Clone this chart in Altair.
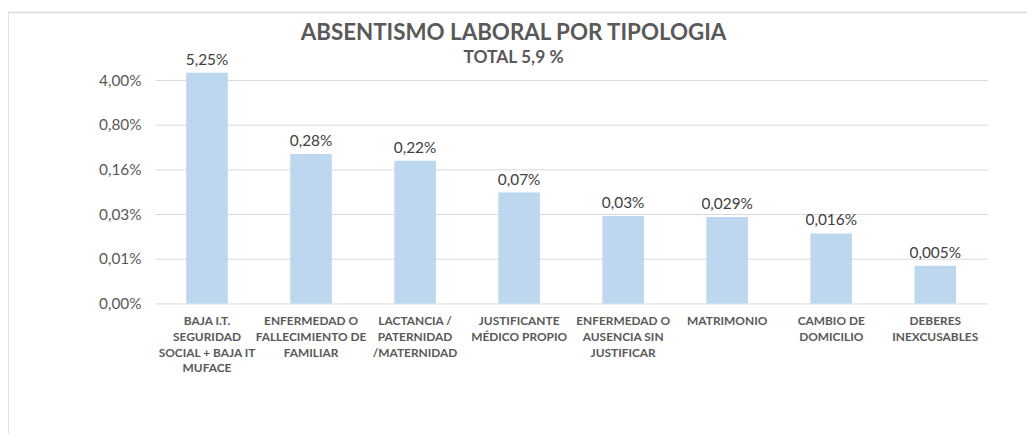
import altair as alt
import pandas as pd

CATEGORIES = [
    "BAJA I.T.|SEGURIDAD|SOCIAL + BAJA IT|MUFACE",
    "ENFERMEDAD O|FALLECIMIENTO DE|FAMILIAR",
    "LACTANCIA /|PATERNIDAD|/MATERNIDAD",
    "JUSTIFICANTE|MÉDICO PROPIO",
    "ENFERMEDAD O|AUSENCIA SIN|JUSTIFICAR",
    "MATRIMONIO",
    "CAMBIO DE|DOMICILIO",
    "DEBERES|INEXCUSABLES",
]
VALUES = [5.25, 0.28, 0.22, 0.07, 0.03, 0.029, 0.016, 0.005]
VALUE_LABELS = ["5,25%", "0,28%", "0,22%", "0,07%", "0,03%", "0,029%", "0,016%", "0,005%"]
Y_TICKS = [0.00128, 0.0064, 0.032, 0.16, 0.8, 4.0]

TITLE = "ABSENTISMO LABORAL POR TIPOLOGIA"
SUBTITLE = "TOTAL 5,9 %"

df = pd.DataFrame({"cat": CATEGORIES, "value": VALUES, "label": VALUE_LABELS})

FONT = "Lato"
GRAY = "#595959"

x_axis = alt.Axis(
    title=None,
    labelAngle=0,
    labelExpr="split(datum.label, '|')",
    labelFont=FONT,
    labelFontSize=12,
    labelFontWeight="bold",
    labelColor=GRAY,
    labelLineHeight=16,
    labelPadding=12,
    labelBaseline="top",
    ticks=False,
    grid=False,
    domain=False,
    labelLimit=200,
)
y_axis = alt.Axis(
    title=None,
    values=Y_TICKS,
    labelExpr="replace(format(datum.value, '.2f'), '.', ',') + '%'",
    labelFont=FONT,
    labelFontSize=15.5,
    labelColor=GRAY,
    labelPadding=14,
    ticks=False,
    domain=False,
    grid=True,
    gridColor="#D9D9D9",
    gridWidth=1,
)
x_scale = alt.Scale(paddingInner=0.6, paddingOuter=0.3)
y_scale = alt.Scale(type="log", base=5, domain=[0.00128, 6.0], nice=False)

base = alt.Chart(df).encode(
    x=alt.X("cat:N", sort=CATEGORIES, scale=x_scale, axis=x_axis),
    y=alt.Y("value:Q", scale=y_scale, axis=y_axis),
)

bars = base.mark_bar(color="#BDD7EE").encode(y2=alt.datum(Y_TICKS[0]))

texts = base.mark_text(
    baseline="bottom", dy=-5, font=FONT, fontSize=15.5, color="#404040"
).encode(text="label:N")

border_df = pd.DataFrame({"k": [0]})
frame = alt.Chart(border_df).mark_rect(
    fill="transparent", stroke="#D9D9D9", strokeWidth=1.5
).encode(
    x=alt.value(-148), x2=alt.value(920), y=alt.value(-57), y2=alt.value(420)
)

chart = (
    alt.layer(frame, bars, texts)
    .properties(
        width=838,
        height=236,
        autosize=alt.AutoSizeParams(type="none"),
        padding={"left": 148, "top": 60, "right": 40, "bottom": 130},
        title=alt.TitleParams(
            text=TITLE,
            subtitle=SUBTITLE,
            anchor="middle",
            dx=-58,
            offset=-55,
            font=FONT,
            fontSize=22.5,
            fontWeight="bold",
            color=GRAY,
            subtitleFont=FONT,
            subtitleFontSize=17.5,
            subtitleFontWeight="bold",
            subtitleColor=GRAY,
            subtitlePadding=4,
        ),
    )
    .configure(
        background="white",
        view=alt.ViewConfig(strokeOpacity=0, strokeWidth=0),
        axis=alt.AxisConfig(domain=False, ticks=False),
        axisX=alt.AxisConfig(grid=False),
        axisBand=alt.AxisConfig(grid=False),
    )
)

chart.save("out.html", embed_options={"renderer": "svg", "actions": False})
